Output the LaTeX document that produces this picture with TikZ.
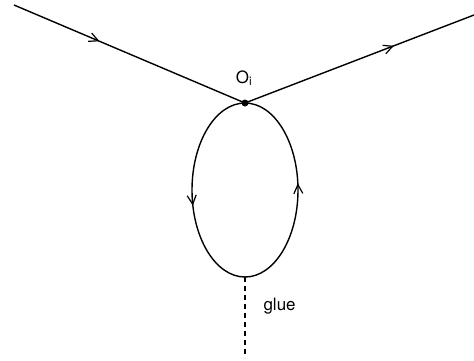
\documentclass[tikz,border=0pt]{standalone}
\usepackage{fontspec}
\setmainfont{TeX Gyre Heros}
\usetikzlibrary{arrows.meta,positioning,calc,decorations.markings}
\tikzset{
  prop/.style={line width=1.4pt},
  midarrow/.style={postaction={decorate,decoration={markings,
      mark=at position #1 with {\arrow{Straight Barb[length=9pt,width=9pt,line width=1.2pt]}}}}},
  gluon/.style={line width=1.2pt, dash pattern=on 5pt off 4pt},
  lbl/.style={font=\fontsize{17}{20}\selectfont}
}

\begin{document}
\begin{tikzpicture}[x=1pt,y=1pt]
    \useasboundingbox (0,0) rectangle (474,-360);
    % external legs
    \coordinate (inL) at (14,-5);
    \coordinate (outR) at (474,-15);
    \node[circle, fill, inner sep=0pt, minimum size=7pt] (vtx) at (245,-103) {};
    \draw[prop, midarrow=0.37] (inL) -- (vtx.center);
    \draw[prop, midarrow=0.65] (vtx.center) -- (outR);
    \node[lbl] (Oi) at (244,-78) {O\textsubscript{i}};
    % loop
    \coordinate (loopBot) at (245,-277);
    \draw[prop, midarrow=0.57] (vtx.center) arc[start angle=90, end angle=270, x radius=53, y radius=87];
    \draw[prop, midarrow=0.53] (loopBot) arc[start angle=270, end angle=450, x radius=53, y radius=87];
    % glue line
    \coordinate (glueEnd) at (245,-358);
    \draw[gluon] (loopBot) -- (glueEnd);
    \node[lbl, anchor=base west] (glue) at (260,-310) {glue};
  \end{tikzpicture}
\end{document}
